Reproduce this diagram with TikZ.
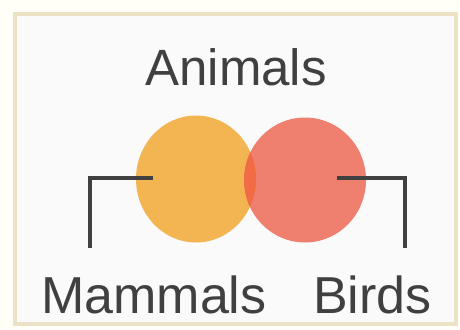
\documentclass[tikz,border=0pt]{standalone}
\usepackage{fontspec}
\setmainfont{Liberation Sans}
\usepackage{xcolor}
\usepackage{tikz}
\usetikzlibrary{shapes.geometric}
\definecolor{frameTan}{RGB}{236,226,198}
\definecolor{mamOrange}{RGB}{242,181,82}
\definecolor{birdRed}{RGB}{239,128,112}
\definecolor{mixRed}{RGB}{241,108,68}
\definecolor{textGray}{RGB}{64,64,64}

\begin{document}
\begin{tikzpicture}[
    x=1pt, y=-1pt,
    label/.style={font=\fontsize{52}{52}\selectfont, text=textGray, inner sep=0pt},
    blob/.style={ellipse, draw=none, inner sep=0pt},
    leader/.style={draw=textGray, line width=3.5pt, line cap=butt}
  ]
    % page and frame
    \fill[white!97!yellow] (0,0) rectangle (460,329);
    \useasboundingbox (0,0) rectangle (460,329);
    \draw[frameTan, line width=4pt, fill=white!98!black] (15,14) rectangle (456,324);

    % the two sets
    \node[blob, fill=mamOrange, minimum width=120pt, minimum height=127pt] (mcirc) at (196,179) {};
    \node[blob, fill=birdRed, minimum width=122pt, minimum height=125pt] (bcirc) at (305,180) {};
    \begin{scope}
      \clip (196,179) ellipse [x radius=60, y radius=63.5];
      \fill[mixRed] (305,180) ellipse [x radius=61, y radius=62.5];
    \end{scope}

    % labels
    \node[label, font=\fontsize{51}{51}\selectfont, anchor=base] (animals) at (236,85) {Animals};
    \node[label, anchor=base west] (mammals) at (41,313) {Mammals};
    \node[label, anchor=base west] (birds) at (313,313) {Birds};

    % leaders
    \coordinate (mtip) at (153,178);
    \coordinate (mfoot) at (90,248);
    \coordinate (btip) at (337,178);
    \coordinate (bfoot) at (405,248);
    \draw[leader] (mtip) -| (mfoot);
    \draw[leader] (btip) -| (bfoot);
  \end{tikzpicture}
\end{document}
